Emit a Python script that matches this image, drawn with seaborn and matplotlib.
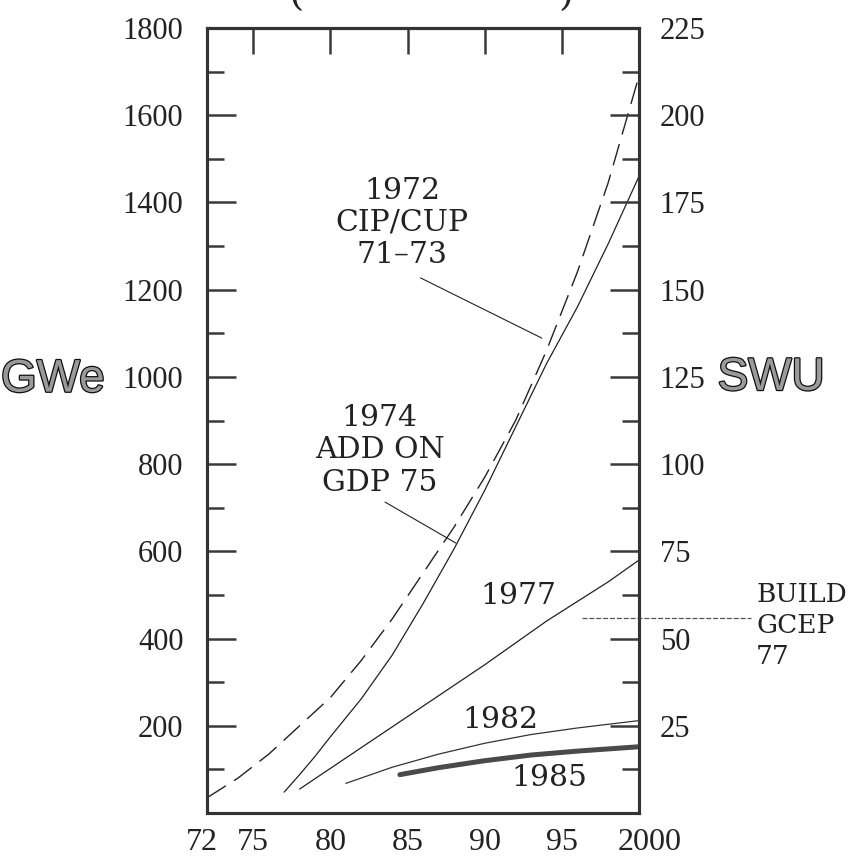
import numpy as np
import pandas as pd
import matplotlib
matplotlib.use("Agg")
import matplotlib.pyplot as plt
import matplotlib.patheffects as pe
from matplotlib.ticker import FixedLocator
from matplotlib.transforms import ScaledTranslation
import seaborn as sns

# Courbes (annee, GWe)
years_1972 = [1972, 1974, 1976, 1978, 1980, 1982, 1984, 1986, 1988, 1990, 1992, 1994, 1996, 1998, 2000]
gwe_1972 = [35, 80, 135, 200, 265, 350, 445, 550, 655, 770, 900, 1060, 1240, 1445, 1690]

years_1974 = [1977, 1978, 1979, 1980, 1982, 1984, 1986, 1988, 1990, 1992, 1994, 1996, 1998, 2000]
gwe_1974 = [48, 88, 130, 175, 262, 362, 480, 605, 740, 885, 1030, 1160, 1305, 1460]

years_1977 = [1978, 1982, 1986, 1990, 1994, 1998, 2000]
gwe_1977 = [55, 150, 245, 340, 440, 530, 580]

years_1982 = [1981, 1984, 1987, 1990, 1993, 1996, 2000]
gwe_1982 = [68, 105, 135, 160, 180, 195, 212]

years_1985 = [1984.5, 1987, 1990, 1993, 1996, 2000]
gwe_1985 = [88, 104, 120, 133, 142, 152]

x_ticks = [1972, 1975, 1980, 1985, 1990, 1995, 2000]
x_labels = ["72", "75", "80", "85", "90", "95", "2000"]
gwe_ticks = [200, 400, 600, 800, 1000, 1200, 1400, 1600, 1800]
swu_ticks = [25, 50, 75, 100, 125, 150, 175, 200, 225]

sns.set_theme(style="white")
plt.rcParams["font.family"] = ["DejaVu Serif"]

fig = plt.figure(figsize=(8.52, 8.57), dpi=100)
ax = fig.add_axes([0.243, 0.0513, 0.507, 0.916])

ink = "#222222"
sns.lineplot(x=years_1972, y=gwe_1972, ax=ax, color=ink, linewidth=1.0, estimator=None, sort=False)
ax.lines[-1].set_dashes([16, 7])
sns.lineplot(x=years_1974, y=gwe_1974, ax=ax, color=ink, linewidth=0.9, estimator=None, sort=False)
sns.lineplot(x=years_1977, y=gwe_1977, ax=ax, color=ink, linewidth=0.9, estimator=None, sort=False)
sns.lineplot(x=years_1982, y=gwe_1982, ax=ax, color="#333333", linewidth=0.9, estimator=None, sort=False)
sns.lineplot(x=years_1985, y=gwe_1985, ax=ax, color="#4a4a4a", linewidth=3.6, estimator=None, sort=False)

ax.set_xlim(1972, 2000)
ax.set_ylim(0, 1800)
ax.set_xlabel("")
ax.set_ylabel("")

ax.set_xticks(x_ticks)
ax.set_xticklabels(x_labels, fontfamily="Liberation Serif", fontsize=23, color=ink)
ax.set_yticks(gwe_ticks)
ax.set_yticklabels([str(v) for v in gwe_ticks], fontfamily="Liberation Serif", fontsize=22, color=ink)
ax.yaxis.set_minor_locator(FixedLocator([v - 100 for v in gwe_ticks]))

tick_col = "#3a3a3a"
ax.tick_params(axis="y", which="major", direction="in", length=21, width=1.8, pad=17, color=tick_col)
ax.tick_params(axis="y", which="minor", direction="in", length=12, width=1.8, color=tick_col)
ax.tick_params(axis="x", which="major", direction="in", length=13, width=1.8, pad=11, color=tick_col)

# decalage des etiquettes aux extremites
xl = ax.get_xticklabels()
xl[0].set_transform(xl[0].get_transform() + ScaledTranslation(-0.05, 0, fig.dpi_scale_trans))
xl[-1].set_transform(xl[-1].get_transform() + ScaledTranslation(0.11, 0, fig.dpi_scale_trans))

# axe de droite en SWU
ax2 = ax.twinx()
ax2.set_ylim(0, 225)
ax2.set_yticks(swu_ticks)
ax2.set_yticklabels([str(v) for v in swu_ticks], fontfamily="Liberation Serif", fontsize=22, color=ink)
ax2.yaxis.set_minor_locator(FixedLocator([v - 12.5 for v in swu_ticks]))
ax2.tick_params(axis="y", which="major", direction="in", length=21, width=1.8, pad=15, color=tick_col)
ax2.tick_params(axis="y", which="minor", direction="in", length=12, width=1.8, color=tick_col)
ax2.grid(False)

# graduations du haut
top = ax.secondary_xaxis("top")
top.set_xticks([1975, 1980, 1985, 1990, 1995])
top.set_xticklabels([])
top.tick_params(direction="in", length=19, width=1.8, color=tick_col)

for a in (ax, ax2, top):
    for s in a.spines.values():
        s.set_linewidth(2.2)
        s.set_color("#333333")

# annotations
txt = dict(fontsize=21.5, color=ink, ha="center", va="center", linespacing=1.2)
ax.text(1984.66, 1353, "1972\nCIP/CUP\n71\u201373", **txt)
ax.plot([1985.84, 1993.7], [1227, 1089], color=ink, lw=0.8)
ax.text(1983.2, 832, "1974\nADD ON\nGDP 75", **txt)
ax.plot([1983.54, 1988.13], [713, 619], color=ink, lw=0.8)
ax.text(1992.2, 498, "1977", **txt)
ax.text(1991.0, 213, "1982", **txt)
ax.text(1994.2, 80, "1985", **txt)
ax.plot([1996.33, 2007.28], [447, 447], color="#555555", lw=0.9, ls=(0, (4, 1.5)), clip_on=False)
ax.text(2007.6, 431, "BUILD\nGCEP\n77", fontsize=19, color=ink, ha="left", va="center", linespacing=1.3)

# titres d'axes
fx = [pe.withStroke(linewidth=1.8, foreground="#111111")]
fig.text(0.062, 0.557, "GWe", fontsize=33, family=["Liberation Sans", "DejaVu Sans"],
         color="#9a9a9a", ha="center", va="center", path_effects=fx)
fig.text(0.905, 0.559, "SWU", fontsize=33, family=["Liberation Sans", "DejaVu Sans"],
         color="#9a9a9a", ha="center", va="center", path_effects=fx)

# titre coupe en haut de page
fig.text(297 / 852, 1 - 14 / 857, "(", fontsize=28, color=ink, ha="center", va="bottom")
fig.text(566 / 852, 1 - 14 / 857, ")", fontsize=28, color=ink, ha="center", va="bottom")

fig.savefig("out.png", dpi=100)
